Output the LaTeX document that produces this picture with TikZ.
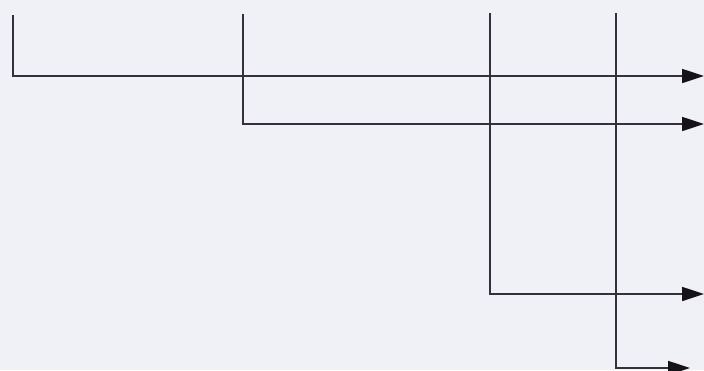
\documentclass[tikz,border=0pt]{standalone}
\usetikzlibrary{arrows.meta}
\definecolor{bg}{HTML}{F0F1F7}
\definecolor{ln}{HTML}{35303C}
\definecolor{hd}{HTML}{151218}
\tikzset{
  wire/.style={draw=ln, line width=2.2pt, line cap=rect},
  feed/.style={draw=ln, line width=1.7pt, -{Triangle[length=22pt 0,width=14pt 0,fill=hd,color=hd]}},
}
\begin{document}
\begin{tikzpicture}[x=1pt,y=-1pt]
\fill[bg] (0,0) rectangle (704,370);
\useasboundingbox (0,0) rectangle (704,370);
\coordinate (a0) at (13,16);  \coordinate (a1) at (13,76);  \coordinate (a2) at (704,76);
\coordinate (b0) at (243,15); \coordinate (b1) at (243,124); \coordinate (b2) at (704,124);
\coordinate (c0) at (490,14); \coordinate (c1) at (490,294); \coordinate (c2) at (704,294);
\coordinate (d0) at (616,14); \coordinate (d1) at (616,368); \coordinate (d2) at (690,368);
\draw[wire] (a0) -- (a1);
\draw[feed] (a1) -- (a2);
\draw[wire] (b0) -- (b1);
\draw[feed] (b1) -- (b2);
\draw[wire] (c0) -- (c1);
\draw[feed] (c1) -- (c2);
\draw[wire] (d0) -- (d1);
\draw[feed] (d1) -- (d2);
\end{tikzpicture}
\end{document}
